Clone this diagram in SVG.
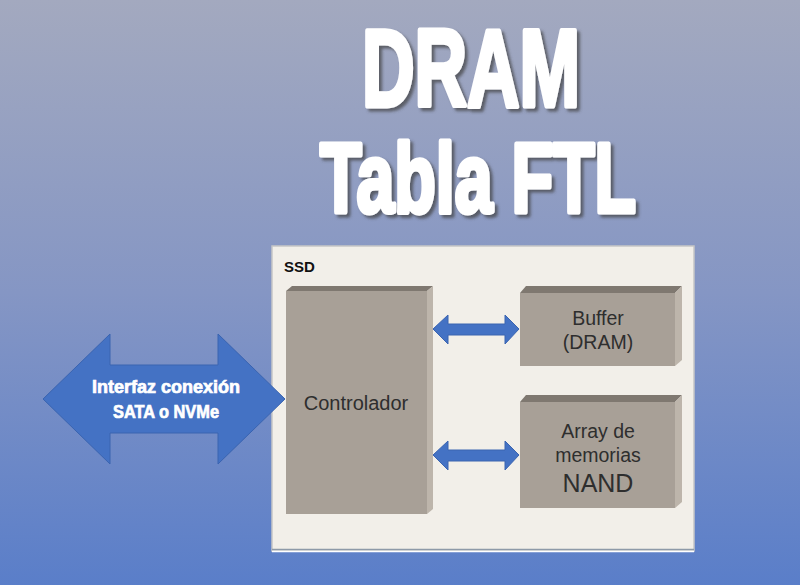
<svg xmlns="http://www.w3.org/2000/svg" width="800" height="585" viewBox="0 0 800 585">
<defs>
<linearGradient id="bg" x1="0" y1="0" x2="0" y2="1">
<stop offset="0" stop-color="#a3a9bf"/>
<stop offset="0.5" stop-color="#8596c4"/>
<stop offset="1" stop-color="#5a7ec9"/>
</linearGradient>
<filter id="sh" x="-10%" y="-10%" width="130%" height="130%">
<feGaussianBlur in="SourceAlpha" stdDeviation="1.5"/>
<feOffset dx="3" dy="3" result="o"/>
<feFlood flood-color="#404040" flood-opacity="0.7"/>
<feComposite in2="o" operator="in"/>
<feMerge><feMergeNode/><feMergeNode in="SourceGraphic"/></feMerge>
</filter>
<style>
.front{fill:#a8a097;}
.top{fill:#7f7870;}
.side{fill:#bdb5ab;}
.lbl{font-family:"Liberation Sans",Arial,sans-serif;fill:#2e2e2e;text-anchor:middle;}
.arr{fill:#4472c4;stroke:#3a64b0;stroke-width:1;}
.title{font-family:"Liberation Sans",Arial,sans-serif;font-weight:bold;fill:#ffffff;stroke:#ffffff;stroke-width:5;stroke-linejoin:round;}
.itf{font-family:"Liberation Sans Narrow","Liberation Sans",Arial,sans-serif;font-weight:bold;font-size:18px;fill:#ffffff;stroke:#ffffff;stroke-width:0.7;text-anchor:middle;}
</style>
</defs>
<rect width="800" height="585" fill="url(#bg)"/>
<g id="title" filter="url(#sh)">
<text class="title" x="362" y="106" font-size="110" textLength="218" lengthAdjust="spacingAndGlyphs">DRAM</text>
<text class="title" x="320" y="212" font-size="98" textLength="316" lengthAdjust="spacingAndGlyphs">Tabla FTL</text>
</g>
<g id="ssd">
<rect x="272" y="246" width="422" height="305" fill="#f2efe9" stroke="#c6c6c6" stroke-width="1.5"/>
<line x1="272" y1="549.5" x2="694" y2="549.5" stroke="#8e9aa8" stroke-width="1.5"/>
<line x1="272" y1="551.5" x2="694" y2="551.5" stroke="#ffffff" stroke-width="1.5"/>
<text x="284" y="272" font-family="Liberation Sans,Arial,sans-serif" font-weight="bold" font-size="15" fill="#111">SSD</text>
</g>
<g id="controlador">
<polygon class="top" points="286,291 292,286 433,286 427,291"/>
<polygon class="side" points="427,291 433,286 433,509 427,514"/>
<rect class="front" x="286" y="291" width="141" height="223"/>
<text class="lbl" x="356" y="410" font-size="20">Controlador</text>
</g>
<g id="buffer">
<polygon class="top" points="520,293 526,286 682,286 675,293"/>
<polygon class="side" points="675,293 682,286 682,360 675,366"/>
<rect class="front" x="520" y="293" width="155" height="73"/>
<text class="lbl" x="598" y="325" font-size="19.5">Buffer</text>
<text class="lbl" x="598" y="349" font-size="19.5">(DRAM)</text>
</g>
<g id="nand">
<polygon class="top" points="520,402 526,395 682,395 675,402"/>
<polygon class="side" points="675,402 682,395 682,502 675,508"/>
<rect class="front" x="520" y="402" width="155" height="106"/>
<text class="lbl" x="598" y="438" font-size="19.5">Array de</text>
<text class="lbl" x="598" y="462" font-size="19.5">memorias</text>
<text class="lbl" x="598" y="492" font-size="25">NAND</text>
</g>
<g id="interfaz">
<polygon class="arr" points="43,399 110,334 110,365 218,365 218,334 285,399 218,464 218,433 110,433 110,464"/>
<text class="itf" x="166" y="393" textLength="148" lengthAdjust="spacingAndGlyphs">Interfaz conexión</text>
<text class="itf" x="166" y="418" textLength="106" lengthAdjust="spacingAndGlyphs">SATA o NVMe</text>
</g>
<g id="connectors">
<polygon class="arr" points="433,329 448,315 448,324 505,324 505,315 519,329 505,344 505,335 448,335 448,344"/>
<polygon class="arr" points="433,455 448,441 448,450 505,450 505,441 519,455 505,470 505,461 448,461 448,470"/>
</g>
</svg>
